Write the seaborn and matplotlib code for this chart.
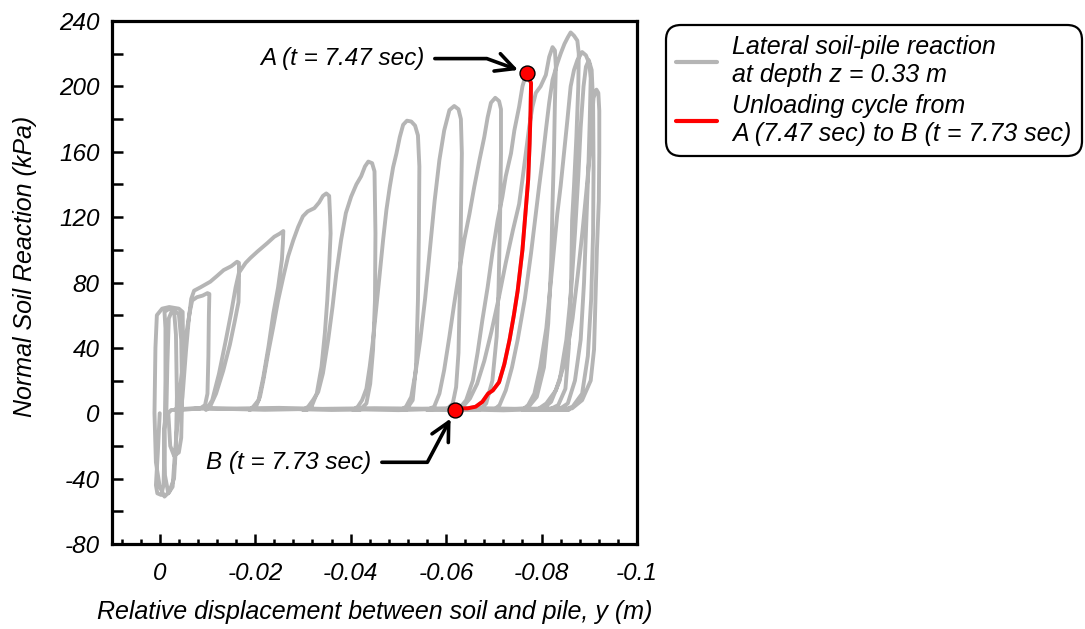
import matplotlib
matplotlib.use("Agg")
import matplotlib.pyplot as plt
import matplotlib.ticker as mticker
import seaborn as sns
import pandas as pd

# ---------------- data ----------------
# relative displacement y (m), normal soil reaction (kPa)
loop_00 = [(0.0000, 0), (0.0004, -24), (0.0008, -44), (0.0005, -49), (-0.0003, -50),
           (-0.0008, -44), (-0.0010, -20), (-0.0012, 20), (-0.0012, 52), (-0.0010, 62),
           (-0.0020, 64), (-0.0030, 63), (-0.0034, 48), (-0.0036, 10), (-0.0034, -20),
           (-0.0030, -40), (-0.0020, -48), (-0.0010, -51), (0.0000, -45), (0.0008, -30),
           (0.0011, 0), (0.0009, 40), (0.0006, 60), (-0.0005, 64), (-0.0020, 65),
           (-0.0040, 64), (-0.0048, 62), (-0.0049, 40), (-0.0046, 15), (-0.0040, 3),
           (-0.0036, -10), (-0.0031, -28), (-0.0027, -45), (-0.0018, -49), (-0.0011, -38),
           (-0.0009, -10), (-0.0014, 2)]
loop_01 = [(-0.0014, 2), (-0.0016, 30), (-0.0019, 58), (-0.0026, 63), (-0.0040, 61),
           (-0.0045, 45), (-0.0047, 10), (-0.0045, -15), (-0.0040, -24), (-0.0030, -26),
           (-0.0022, -20), (-0.0018, 0), (-0.0024, 2)]
loop_02 = [(-0.0030, 2), (-0.0036, 3), (-0.0042, 14), (-0.0047, 26), (-0.0052, 40),
           (-0.0057, 51), (-0.0063, 62), (-0.0068, 69), (-0.0078, 71), (-0.0090, 72),
           (-0.0100, 73.5), (-0.0104, 73), (-0.0103, 60), (-0.0102, 35), (-0.0100, 12),
           (-0.0095, 5), (-0.0085, 3)]
loop_03 = [(-0.0045, 2), (-0.0049, 15), (-0.0055, 38), (-0.0061, 58), (-0.0066, 70),
           (-0.0072, 75), (-0.0085, 77), (-0.0106, 80.5), (-0.0120, 84), (-0.0134, 87.6),
           (-0.0150, 90), (-0.0162, 92.7), (-0.0166, 92), (-0.0166, 80), (-0.0165, 68),
           (-0.0157, 56), (-0.0147, 42), (-0.0133, 26), (-0.0118, 12), (-0.0107, 5),
           (-0.0097, 2)]
loop_04 = [(-0.0097, 2), (-0.0110, 8), (-0.0124, 24), (-0.0138, 44), (-0.0150, 62),
           (-0.0159, 77), (-0.0166, 86), (-0.0180, 92), (-0.0190, 95), (-0.0205, 99),
           (-0.0225, 104), (-0.0240, 108), (-0.0252, 110), (-0.0259, 111.5), (-0.0258, 104),
           (-0.0256, 94), (-0.0248, 77), (-0.0238, 61), (-0.0228, 41), (-0.0217, 22),
           (-0.0207, 8), (-0.0196, 4), (-0.0188, 2)]
loop_05 = [(-0.0188, 2), (-0.0196, 3), (-0.0203, 5), (-0.0210, 10), (-0.0217, 20),
           (-0.0227, 36.5), (-0.0238, 53), (-0.0248, 69), (-0.0259, 83.5), (-0.0269, 96),
           (-0.0280, 106), (-0.0290, 114), (-0.0300, 120.5), (-0.0310, 123.5), (-0.0324, 125.5),
           (-0.0334, 129), (-0.0342, 133), (-0.0349, 134.5), (-0.0355, 133), (-0.0357, 120),
           (-0.0358, 110), (-0.0355, 90), (-0.0351, 69), (-0.0346, 49), (-0.0339, 28.5),
           (-0.0329, 12), (-0.0318, 4), (-0.0308, 2)]
loop_06 = [(-0.0300, 2), (-0.0311, 4), (-0.0321, 8), (-0.0332, 13), (-0.0342, 24.5),
           (-0.0353, 45), (-0.0362, 65), (-0.0370, 85.5), (-0.0380, 106), (-0.0390, 122.5),
           (-0.0401, 132.5), (-0.0412, 140), (-0.0422, 145), (-0.0430, 151), (-0.0437, 154),
           (-0.0445, 153), (-0.0450, 148), (-0.0452, 110), (-0.0451, 69), (-0.0447, 39),
           (-0.0441, 18), (-0.0433, 6), (-0.0419, 2)]
loop_07 = [(-0.0405, 2), (-0.0415, 4), (-0.0424, 8), (-0.0433, 15), (-0.0440, 28.5),
           (-0.0447, 45), (-0.0454, 65), (-0.0461, 85.5), (-0.0468, 106), (-0.0475, 124.5),
           (-0.0482, 138.5), (-0.0489, 150.5), (-0.0496, 159), (-0.0503, 169), (-0.0510, 176.5),
           (-0.0518, 179), (-0.0527, 178.5), (-0.0535, 176), (-0.0541, 170), (-0.0544, 151),
           (-0.0543, 110), (-0.0541, 69), (-0.0537, 28.5), (-0.0530, 8), (-0.0516, 2)]
loop_08 = [(-0.0505, 2), (-0.0516, 4), (-0.0527, 10), (-0.0536, 25), (-0.0546, 45),
           (-0.0556, 70), (-0.0566, 100), (-0.0576, 130), (-0.0586, 155), (-0.0596, 173),
           (-0.0607, 185.5), (-0.0617, 188), (-0.0626, 186), (-0.0631, 180), (-0.0633, 159),
           (-0.0631, 118), (-0.0629, 77), (-0.0626, 37), (-0.0621, 16), (-0.0614, 6),
           (-0.0600, 2)]
loop_09 = [(-0.0560, 2), (-0.0575, 4), (-0.0586, 12), (-0.0596, 26.5), (-0.0607, 47),
           (-0.0617, 67), (-0.0628, 87.6), (-0.0638, 106), (-0.0649, 122), (-0.0659, 138.5),
           (-0.0670, 155), (-0.0680, 169), (-0.0687, 181), (-0.0694, 190), (-0.0703, 193),
           (-0.0711, 191), (-0.0715, 186), (-0.0715, 159), (-0.0713, 118), (-0.0710, 77),
           (-0.0706, 47), (-0.0697, 20), (-0.0684, 6), (-0.0670, 2)]
loop_10_load = [(-0.0615, 2), (-0.0628, 3), (-0.0642, 8), (-0.0656, 20), (-0.0666, 37),
                (-0.0676, 57), (-0.0687, 77), (-0.0697, 98), (-0.0708, 118), (-0.0718, 132.5),
                (-0.0725, 145), (-0.0736, 159), (-0.0743, 173), (-0.0753, 187.5), (-0.0760, 200),
                (-0.0767, 207), (-0.0770, 208)]
# unloading cycle A -> B (red)
red_unload = [(-0.0770, 208), (-0.0778, 202), (-0.0777, 185), (-0.0775, 165), (-0.0772, 143),
              (-0.0767, 125), (-0.0760, 100), (-0.0750, 75), (-0.0742, 60), (-0.0733, 45),
              (-0.0722, 30), (-0.0711, 19), (-0.0698, 14), (-0.0688, 12), (-0.0676, 7),
              (-0.0662, 4), (-0.0645, 3), (-0.0630, 3), (-0.0619, 2)]
loop_11 = [(-0.0619, 2), (-0.0635, 4), (-0.0650, 9), (-0.0665, 18), (-0.0680, 32),
           (-0.0695, 50), (-0.0710, 70), (-0.0725, 92), (-0.0740, 112), (-0.0753, 128),
           (-0.0760, 143), (-0.0767, 159), (-0.0774, 175), (-0.0781, 187.5), (-0.0788, 196),
           (-0.0798, 200), (-0.0809, 207), (-0.0816, 218), (-0.0823, 224), (-0.0828, 222),
           (-0.0830, 212), (-0.0828, 190), (-0.0826, 159), (-0.0823, 128), (-0.0820, 90),
           (-0.0814, 55), (-0.0805, 28), (-0.0790, 10), (-0.0770, 3)]
loop_12 = [(-0.0700, 2), (-0.0712, 5), (-0.0725, 14), (-0.0738, 28), (-0.0750, 45),
           (-0.0765, 70), (-0.0778, 98), (-0.0788, 122), (-0.0795, 139), (-0.0802, 155),
           (-0.0809, 173), (-0.0816, 190), (-0.0823, 204), (-0.0833, 214), (-0.0840, 220),
           (-0.0848, 226), (-0.0855, 230), (-0.0861, 233), (-0.0868, 231), (-0.0875, 228),
           (-0.0878, 220), (-0.0877, 200), (-0.0873, 169), (-0.0868, 139), (-0.0864, 118),
           (-0.0862, 80), (-0.0857, 40), (-0.0850, 15), (-0.0835, 5), (-0.0815, 2)]
loop_13 = [(-0.0760, 2), (-0.0772, 5), (-0.0785, 12), (-0.0797, 28), (-0.0810, 52),
           (-0.0822, 88), (-0.0833, 122), (-0.0840, 139), (-0.0847, 159), (-0.0854, 179),
           (-0.0861, 200), (-0.0868, 210), (-0.0875, 216), (-0.0885, 221), (-0.0893, 219),
           (-0.0900, 214), (-0.0903, 205), (-0.0901, 179), (-0.0898, 149), (-0.0894, 118),
           (-0.0889, 80), (-0.0882, 45), (-0.0870, 20), (-0.0855, 6), (-0.0835, 2)]
loop_14 = [(-0.0790, 2), (-0.0810, 6), (-0.0830, 14), (-0.0850, 32), (-0.0865, 58),
           (-0.0876, 85), (-0.0886, 112), (-0.0895, 139), (-0.0901, 159), (-0.0905, 179),
           (-0.0909, 193), (-0.0915, 198), (-0.0919, 196), (-0.0921, 185), (-0.0921, 160),
           (-0.0920, 130), (-0.0916, 100), (-0.0913, 69), (-0.0910, 39), (-0.0903, 20),
           (-0.0885, 8), (-0.0864, 3), (-0.0840, 2)]
loop_15 = [(-0.0800, 2), (-0.0820, 7), (-0.0838, 20), (-0.0852, 45), (-0.0862, 75),
           (-0.0870, 110), (-0.0877, 145), (-0.0882, 175), (-0.0888, 200), (-0.0893, 212),
           (-0.0899, 216), (-0.0905, 210), (-0.0908, 190), (-0.0909, 150), (-0.0908, 110),
           (-0.0904, 70), (-0.0897, 35), (-0.0885, 12), (-0.0865, 4), (-0.0845, 2)]
baseline_return = [(-0.0857, 2), (-0.0800, 2.5), (-0.0720, 1.8), (-0.0650, 2.2), (-0.0580, 2.6),
                   (-0.0500, 1.9), (-0.0430, 2.3), (-0.0360, 2.0), (-0.0290, 2.5), (-0.0220, 2.1),
                   (-0.0150, 2.6), (-0.0090, 2.8), (-0.0040, 2.5), (-0.0080, 3.2),
                   (-0.0160, 2.9), (-0.0250, 3.3), (-0.0340, 2.7), (-0.0450, 3.1),
                   (-0.0550, 2.8), (-0.0650, 3.2), (-0.0750, 2.7), (-0.0850, 3.0)]

point_A = (-0.0770, 208)
point_B = (-0.0619, 2.0)

x_major_ticks = [0, -0.02, -0.04, -0.06, -0.08, -0.1]
x_tick_labels = ["0", "-0.02", "-0.04", "-0.06", "-0.08", "-0.1"]

gray_label = "Lateral soil-pile reaction\nat depth z = 0.33 m"
red_label = "Unloading cycle from\nA (7.47 sec) to B (t = 7.73 sec)"

# ---------------- figure ----------------
sns.set_style("white")
plt.rcParams["font.family"] = ["Liberation Sans", "DejaVu Sans"]
plt.rcParams["font.style"] = "italic"
plt.rcParams["axes.unicode_minus"] = False
plt.rcParams["text.color"] = "black"
plt.rcParams["axes.labelcolor"] = "black"
plt.rcParams["xtick.color"] = "black"
plt.rcParams["ytick.color"] = "black"

fig = plt.figure(figsize=(10.85, 6.29), dpi=100)
ax = fig.add_axes([112 / 1085, 1 - 544 / 629, 525 / 1085, 523 / 629])

gray_path = (loop_00 + loop_01 + loop_02 + loop_03 + loop_04 + loop_05 + loop_06 +
             loop_07 + loop_08 + loop_09 + loop_10_load + red_unload + loop_11 +
             loop_12 + loop_13 + loop_14 + loop_15 + baseline_return)
gdf = pd.DataFrame(gray_path, columns=["disp", "reaction"])
rdf = pd.DataFrame(red_unload, columns=["disp", "reaction"])

GRAY = "#b5b5b5"
sns.lineplot(data=gdf, x="disp", y="reaction", sort=False, estimator=None,
             color=GRAY, lw=2.8, ax=ax, label=gray_label,
             solid_joinstyle="round", solid_capstyle="round", zorder=2)
sns.lineplot(data=rdf, x="disp", y="reaction", sort=False, estimator=None,
             color="#ff0000", lw=2.8, ax=ax, label=red_label,
             solid_joinstyle="round", solid_capstyle="round", zorder=3)
pts = pd.DataFrame([point_A, point_B], columns=["disp", "reaction"])
sns.scatterplot(data=pts, x="disp", y="reaction", s=115, color="#ff0000",
                edgecolor="black", linewidth=1.0, ax=ax, zorder=5, legend=False)

ax.set_xlim(0.01, -0.1)
ax.set_ylim(-80, 240)

ax.set_xticks(x_major_ticks)
ax.set_xticklabels(x_tick_labels)
ax.xaxis.set_minor_locator(mticker.MultipleLocator(0.004))
ax.yaxis.set_major_locator(mticker.MultipleLocator(40))
ax.yaxis.set_minor_locator(mticker.MultipleLocator(20))

ax.tick_params(axis="y", which="both", direction="in", length=8, width=1.8,
               left=True, right=False, pad=9, labelsize=17.5, color="black",
               labelcolor="black")
ax.tick_params(axis="x", which="major", direction="in", length=7, width=1.8,
               bottom=True, top=False, pad=13, labelsize=17.5, color="black",
               labelcolor="black")
ax.tick_params(axis="x", which="minor", direction="in", length=3.8, width=1.8,
               bottom=True, top=False, color="black")
for sp in ax.spines.values():
    sp.set_visible(True)
    sp.set_color("black")
    sp.set_linewidth(2.3)

ax.set_xlabel("Relative displacement between soil and pile, y (m)", fontsize=18,
              color="black")
ax.set_ylabel("Normal Soil Reaction (kPa)", fontsize=18, color="black")
ax.xaxis.set_label_coords(0.5, -0.107)
ax.yaxis.set_label_coords(-0.142, 0.53)

# annotations
arrow_style = "->,head_length=0.75,head_width=0.38"
ax.annotate("A (t = 7.47 sec)", xy=point_A, xytext=(-0.0555, 217), textcoords="data",
            ha="right", va="center", fontsize=17.5, color="black",
            arrowprops=dict(arrowstyle=arrow_style, lw=2.6,
                            color="black", shrinkA=5, shrinkB=7,
                            connectionstyle="angle,angleA=0,angleB=-20,rad=0"),
            zorder=6)
ax.annotate("B (t = 7.73 sec)", xy=point_B, xytext=(-0.0444, -30), textcoords="data",
            ha="right", va="center", fontsize=17.5, color="black",
            arrowprops=dict(arrowstyle=arrow_style, lw=2.6,
                            color="black", shrinkA=5, shrinkB=7,
                            connectionstyle="angle,angleA=0,angleB=62,rad=0"),
            zorder=6)

handles, labels = ax.get_legend_handles_labels()
leg = ax.legend(handles[:2], labels[:2], loc="upper left",
                bbox_to_anchor=(666 / 1085, 1 - 25 / 629), bbox_transform=fig.transFigure,
                frameon=True, fancybox=True, framealpha=1, edgecolor="black",
                fontsize=18, handlelength=1.65, handletextpad=0.6, labelspacing=0.3,
                borderpad=0.4, borderaxespad=0)
leg.get_frame().set_linewidth(1.6)
leg.get_frame().set_boxstyle("round,pad=0,rounding_size=0.6")
for line in leg.get_lines():
    line.set_linewidth(3)
for t in leg.get_texts():
    t.set_color("black")

fig.savefig("out.png", dpi=100)
